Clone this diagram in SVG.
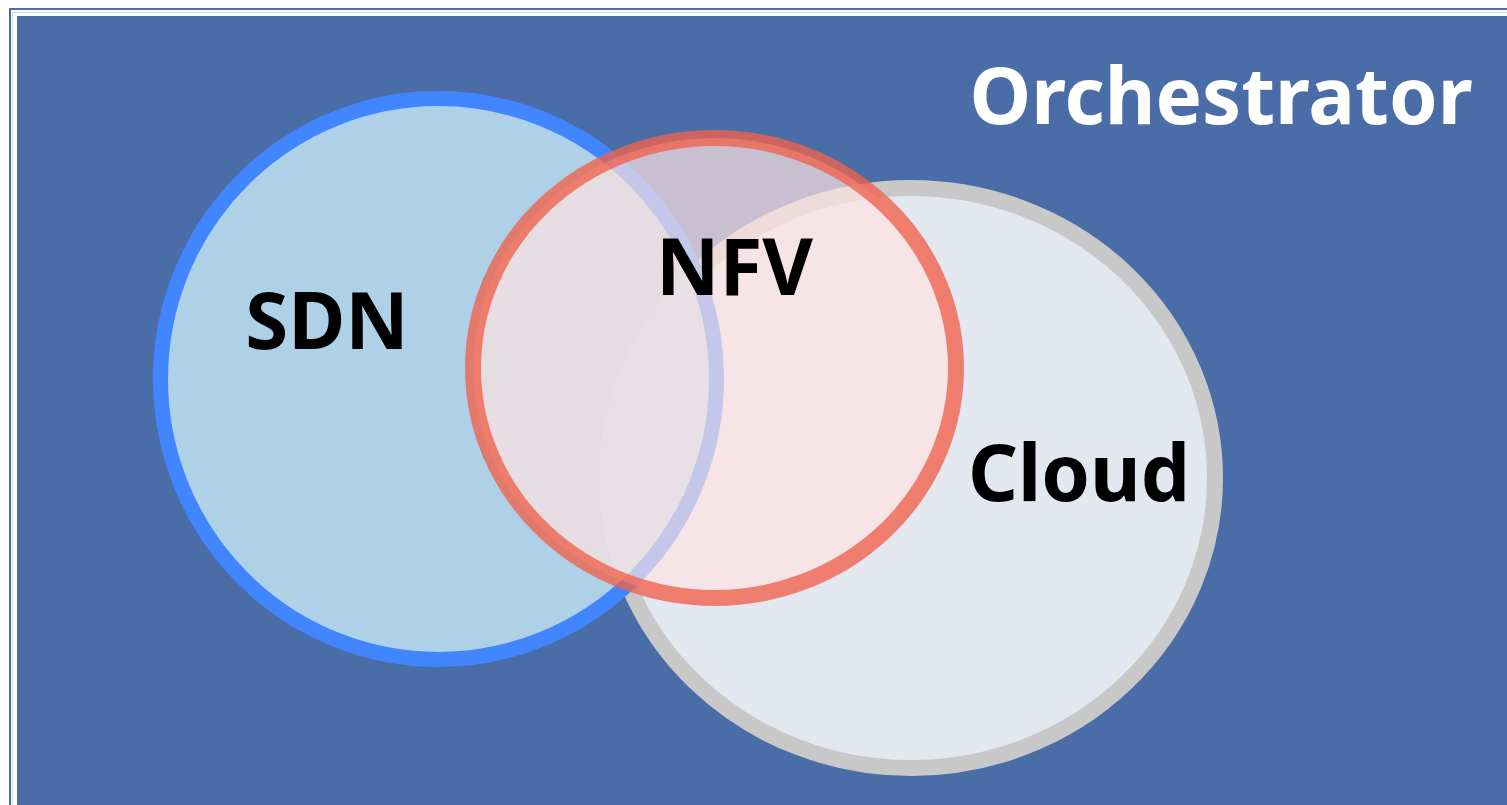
<svg xmlns="http://www.w3.org/2000/svg" width="1507" height="805" viewBox="0 0 1507 805">
  <style>
    .label { font-family: "Noto Sans", "Open Sans", "DejaVu Sans", sans-serif; font-weight: 700; font-size: 78px; text-anchor: middle; }
    .dark { fill: #000000; }
    .light { fill: #ffffff; }
  </style>

  <!-- page background -->
  <rect x="0" y="0" width="1507" height="805" fill="#ffffff"/>

  <!-- orchestrator frame -->
  <g id="orchestrator">
    <rect x="10" y="9" width="1510" height="810" fill="none" stroke="#4a6da8" stroke-width="2"/>
    <rect x="12.5" y="12.5" width="1510" height="810" fill="none" stroke="#d3dbea" stroke-width="1"/>
    <rect x="17" y="16" width="1500" height="800" fill="#4a6da8"/>
    <text class="label light" x="1221" y="124">Orchestrator</text>
  </g>

  <!-- Cloud set -->
  <g id="cloud">
    <ellipse cx="911" cy="478" rx="304" ry="290" fill="#e3e7f0" stroke="#c8c8c8" stroke-width="16"/>
    <text class="label dark" x="1079" y="501">Cloud</text>
  </g>

  <!-- SDN set -->
  <g id="sdn">
    <ellipse cx="438.5" cy="379" rx="278" ry="280.5" fill="#b6d8ed" fill-opacity="0.93" stroke="#4286ff" stroke-width="15"/>
    <text class="label dark" x="327" y="349">SDN</text>
  </g>

  <!-- NFV set, translucent so the overlaps show through -->
  <g id="nfv">
    <ellipse cx="714.5" cy="368" rx="241.5" ry="230" fill="#fee2e1" fill-opacity="0.7" stroke="#f0624c" stroke-opacity="0.79" stroke-width="16"/>
    <text class="label dark" x="734.5" y="295">NFV</text>
  </g>

  <g id="connectors"/>
</svg>
